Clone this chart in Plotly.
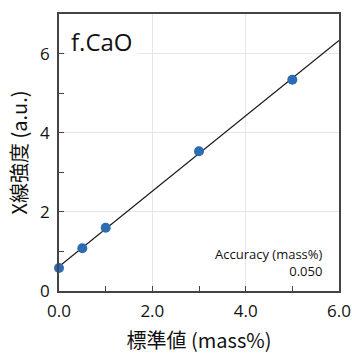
import numpy as np
import plotly.graph_objects as go

standard = [0.0, 0.5, 1.0, 3.0, 5.0]
intensity = [0.58, 1.08, 1.60, 3.53, 5.34]
x_ticks = [0, 2, 4, 6]
x_tick_labels = ["0.0", "2.0", "4.0", "6.0"]
y_ticks = [0, 2, 4, 6]
y_tick_labels = ["0", "2", "4", "6"]
title_text = "f.CaO"
accuracy_label = "Accuracy (mass%)"
accuracy_value = "0.050"

slope, intercept = np.polyfit(standard, intensity, 1)
fit_x = [0.0, 6.0]
fit_y = [intercept + slope * v for v in fit_x]

font_main = "Open Sans, Noto Sans CJK JP, sans-serif"

fig = go.Figure()
fig.add_trace(go.Scatter(x=fit_x, y=fit_y, mode="lines",
                         line=dict(color="#1a1a1a", width=1.3), showlegend=False))
fig.add_trace(go.Scatter(x=standard, y=intensity, mode="markers",
                         marker=dict(color="#2b6cb3", size=10), showlegend=False,
                         cliponaxis=False))

axis_common = dict(showline=True, linecolor="#444444", linewidth=1.5, mirror=True,
                   ticks="inside", ticklen=5, tickcolor="#444444", tickwidth=1.2,
                   showgrid=True, gridcolor="#e6e6e6", gridwidth=1, zeroline=False,
                   automargin=False, ticklabelstandoff=4,
                   tickfont=dict(family=font_main, size=17, color="#111111"),
                   minor=dict(ticks="inside", ticklen=5, tickcolor="#444444", dtick=1, showgrid=False))

fig.update_xaxes(range=[0, 6], tickvals=x_ticks, ticktext=x_tick_labels,
                 title=dict(text="標準値 (mass%)", font=dict(family="Noto Sans CJK JP", size=20, color="#111111"),
                            standoff=16),
                 **axis_common)
fig.update_yaxes(range=[0, 7], tickvals=y_ticks, ticktext=y_tick_labels,
                 title=dict(text="X線強度 (a.u.)", font=dict(family="Noto Sans CJK JP", size=20, color="#111111"),
                            standoff=7),
                 **axis_common)

fig.add_annotation(x=0, y=1, xref="paper", yref="paper", xanchor="left", yanchor="top",
                   text=title_text, showarrow=False, bgcolor="white",
                   font=dict(family=font_main, size=24, color="#111111"),
                   xshift=7, yshift=-6, borderpad=4)
fig.add_annotation(x=1, y=0, xref="paper", yref="paper", xanchor="right", yanchor="bottom",
                   text=accuracy_label + "<br>" + accuracy_value, align="right", showarrow=False,
                   font=dict(family=font_main, size=13, color="#111111"),
                   xshift=-14, yshift=9)

fig.update_layout(width=352, height=354, margin=dict(l=59, r=13, t=14, b=63),
                  plot_bgcolor="white", paper_bgcolor="white")

fig.write_html("out.html", config={"displayModeBar": False},
               post_script="document.body.style.margin='0';")
